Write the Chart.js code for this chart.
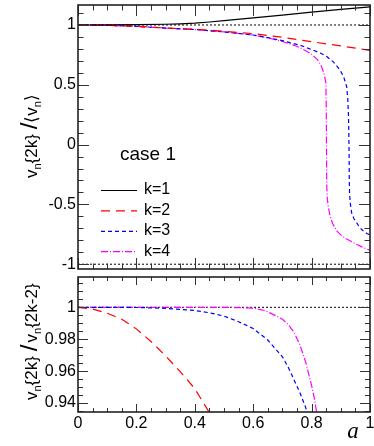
<!DOCTYPE html>
<html>
<head>
<meta charset="utf-8">
<script src="https://cdn.jsdelivr.net/npm/chart.js@4"></script>
<style>
  body { margin: 0; background: #fff; }
  #wrap { position: relative; width: 374px; height: 446px; }
  canvas { position: absolute; left: 0; }
</style>
</head>
<body>
<div id="wrap">
  <canvas id="topPanel" width="374" height="274" style="top:0;width:374px;height:274px"></canvas>
  <canvas id="bottomPanel" width="374" height="172" style="top:274px;width:374px;height:172px"></canvas>
</div>
<script>
// ---- data ----
// top panel: v_n{2k} / <v_n>
const aK1 = [0, 0.1, 0.2, 0.3, 0.35, 0.4, 0.45, 0.5, 0.6, 0.7, 0.8, 0.9, 1];
const vK1 = [1, 1.001, 1.003, 1.006, 1.010, 1.016, 1.025, 1.036, 1.059, 1.083, 1.107, 1.13, 1.152];

const aK2 = [0, 0.1, 0.2, 0.3, 0.4, 0.45, 0.5, 0.6, 0.7, 0.8, 0.9, 1];
const vK2 = [1, 0.997, 0.989, 0.975, 0.964, 0.957, 0.947, 0.928, 0.897, 0.86, 0.825, 0.788];

const aK3 = [0, 0.1, 0.2, 0.3, 0.4, 0.5, 0.6, 0.65, 0.7, 0.76, 0.8, 0.83, 0.852, 0.875, 0.897, 0.91, 0.92,
             0.924, 0.926, 0.9275, 0.928, 0.9285, 0.929, 0.93, 0.932, 0.937, 0.945, 0.954, 0.962, 0.971, 0.98, 0.991, 1];
const vK3 = [1, 0.997, 0.989, 0.974, 0.962, 0.942, 0.916, 0.894, 0.869, 0.831, 0.795, 0.765, 0.736, 0.69, 0.625, 0.565, 0.486,
             0.38, 0.264, 0.1, 0, -0.1, -0.29, -0.4, -0.48, -0.57, -0.62, -0.653, -0.683, -0.708, -0.73, -0.745, -0.755];

const aK4 = [0, 0.1, 0.2, 0.3, 0.4, 0.5, 0.6, 0.65, 0.7, 0.74, 0.76, 0.78, 0.8, 0.82, 0.834, 0.843, 0.849,
             0.85, 0.8505, 0.851, 0.8515, 0.852, 0.854, 0.858, 0.863, 0.872, 0.886, 0.9, 0.92, 0.94, 0.954, 0.97, 0.991, 1];
const vK4 = [1, 0.997, 0.989, 0.974, 0.962, 0.942, 0.9155, 0.892, 0.862, 0.83, 0.81, 0.785, 0.756, 0.71, 0.653, 0.59, 0.514,
             0.35, 0.2, 0, -0.2, -0.35, -0.458, -0.53, -0.597, -0.66, -0.722, -0.755, -0.79, -0.815, -0.833, -0.853, -0.875, -0.883];

// bottom panel: v_n{2k} / v_n{2k-2}
const aR2 = [0, 0.05, 0.1, 0.15, 0.2, 0.25, 0.3, 0.35, 0.4, 0.45, 0.46];
const vR2 = [1, 0.9989, 0.9963, 0.9925, 0.9865, 0.9786, 0.9695, 0.9597, 0.949, 0.934, 0.931];

const aR3 = [0, 0.1, 0.2, 0.3, 0.4, 0.45, 0.5, 0.55, 0.6, 0.65, 0.7, 0.72, 0.74, 0.76, 0.78, 0.8];
const vR3 = [1, 1, 0.9999, 0.9994, 0.998, 0.9966, 0.9945, 0.991, 0.9867, 0.9795, 0.969, 0.9625, 0.9545, 0.9465, 0.937, 0.926];

const aR4 = [0, 0.5, 0.55, 0.6, 0.64, 0.68, 0.7, 0.72, 0.74, 0.76, 0.78, 0.8, 0.81, 0.817, 0.825];
const vR4 = [1, 1, 0.9998, 0.9995, 0.998, 0.9945, 0.9925, 0.9892, 0.9843, 0.9765, 0.9655, 0.951, 0.9425, 0.9345, 0.924];

// dotted reference lines
const refA = [0, 1];
const refTopHi = [1, 1];
const refTopLo = [-1, -1];
const refBottom = [1, 1];

// axis ticks
const xMajor = [0, 0.2, 0.4, 0.6, 0.8, 1];
const topYMajor = [-1, -0.5, 0, 0.5, 1];
const bottomYMajor = [0.94, 0.96, 0.98, 1];
const seriesLabels = ['k=1', 'k=2', 'k=3', 'k=4'];

const FONT = 'Liberation Sans, Arial, sans-serif';

function pts(xs, ys) { return xs.map((x, i) => ({ x: x, y: ys[i] })); }
function steps(from, to, step) {
  const out = [];
  for (let v = from; v <= to + 1e-9; v += step) out.push(+v.toFixed(4));
  return out;
}

const styles = [
  { borderColor: '#000000', borderDash: [] },
  { borderColor: '#ff0000', borderDash: [9, 6] },
  { borderColor: '#0000ff', borderDash: [4, 3] },
  { borderColor: '#ff00ff', borderDash: [7, 2, 1, 2] }
];

function curve(label, xs, ys, i) {
  return Object.assign({ label: label, data: pts(xs, ys), borderWidth: 1.2, pointRadius: 0, tension: 0, fill: false }, styles[i]);
}
function refLine(ys) {
  return { data: pts(refA, ys), borderColor: '#000', borderWidth: 1, borderDash: [2, 2], pointRadius: 0, fill: false };
}
// keep the plot box fixed: no extra room for overhanging labels
function fixY(s) { s.width = 78; s.paddingTop = 0; s.paddingBottom = 0; }
function fixX(s) { s.height = 34; s.paddingLeft = 0; s.paddingRight = 0; }

// frame + inward ticks like the original plot
const rootFrame = {
  id: 'rootFrame',
  afterDatasetsDraw(chart, args, o) {
    const { ctx, chartArea: ca, scales } = chart;
    const x = scales.x, y = scales.y;
    ctx.save();
    ctx.strokeStyle = '#333';
    ctx.lineWidth = 1;
    ctx.setLineDash([]);
    const xt = (vals, len) => vals.forEach(v => {
      const px = Math.round(x.getPixelForValue(v)) + 0.5;
      ctx.beginPath();
      ctx.moveTo(px, ca.bottom); ctx.lineTo(px, ca.bottom - len);
      ctx.moveTo(px, ca.top); ctx.lineTo(px, ca.top + len);
      ctx.stroke();
    });
    const yt = (vals, len) => vals.forEach(v => {
      const py = Math.round(y.getPixelForValue(v)) + 0.5;
      ctx.beginPath();
      ctx.moveTo(ca.left, py); ctx.lineTo(ca.left + len, py);
      ctx.moveTo(ca.right, py); ctx.lineTo(ca.right - len, py);
      ctx.stroke();
    });
    xt(o.xMinor, o.xMinLen); xt(o.xMajor, o.xMajLen);
    yt(o.yMinor, o.yMinLen); yt(o.yMajor, o.yMajLen);
    ctx.lineWidth = 1.6;
    ctx.strokeStyle = '#222';
    ctx.strokeRect(ca.left, ca.top, ca.width, ca.height);
    ctx.restore();
  }
};

// rotated y title with subscripts
const yTitle = {
  id: 'yTitle',
  afterDraw(chart, args, o) {
    const ctx = chart.ctx;
    ctx.save();
    ctx.translate(o.x, o.y);
    ctx.rotate(-Math.PI / 2);
    ctx.fillStyle = '#000';
    ctx.textBaseline = 'alphabetic';
    let cx = 0;
    o.parts.forEach(p => {
      ctx.font = p[1] + 'px ' + FONT;
      ctx.fillText(p[0], cx, p[2]);
      cx += ctx.measureText(p[0]).width;
    });
    ctx.restore();
  }
};

const caseLegend = {
  id: 'caseLegend',
  afterDraw(chart, args, o) {
    if (!o.show) return;
    const ctx = chart.ctx;
    ctx.save();
    ctx.fillStyle = '#000';
    ctx.font = '19px ' + FONT;
    ctx.textBaseline = 'alphabetic';
    ctx.fillText(o.title, 120, 160);
    ctx.font = '16px ' + FONT;
    ctx.textBaseline = 'middle';
    const ds = chart.data.datasets.filter(d => d.label);
    ds.forEach((d, i) => {
      const ly = 190 + i * 20.4;
      ctx.strokeStyle = d.borderColor;
      ctx.lineWidth = 1.2;
      ctx.setLineDash(d.borderDash);
      ctx.beginPath();
      ctx.moveTo(101, ly + 0.5); ctx.lineTo(137, ly + 0.5);
      ctx.stroke();
      ctx.fillText(d.label, 144, ly);
    });
    ctx.restore();
  }
};

const axisName = {
  id: 'axisName',
  afterDraw(chart, args, o) {
    if (!o.text) return;
    const ctx = chart.ctx;
    ctx.save();
    ctx.fillStyle = '#000';
    ctx.font = 'italic 23px Liberation Serif, serif';
    ctx.textAlign = 'center';
    ctx.fillText(o.text, 353, 164);
    ctx.restore();
  }
};

Chart.register(rootFrame, yTitle, caseLegend, axisName);

const tickFont = { family: FONT, size: 16 };

// ---- top panel ----
new Chart(document.getElementById('topPanel'), {
  type: 'line',
  data: {
    datasets: [
      curve(seriesLabels[0], aK1, vK1, 0),
      curve(seriesLabels[1], aK2, vK2, 1),
      curve(seriesLabels[2], aK3, vK3, 2),
      curve(seriesLabels[3], aK4, vK4, 3),
      refLine(refTopHi),
      refLine(refTopLo)
    ]
  },
  options: {
    responsive: false,
    animation: false,
    devicePixelRatio: 1,
    layout: { padding: { top: 5, right: 4, bottom: 5, left: 0 } },
    scales: {
      x: { type: 'linear', min: 0, max: 1, display: false },
      y: {
        type: 'linear', min: -1.04, max: 1.167,
        afterFit: fixY,
        afterBuildTicks(s) { s.ticks = topYMajor.map(v => ({ value: v })); },
        grid: { display: false, drawTicks: false },
        border: { display: false },
        ticks: { font: tickFont, color: '#000', padding: 2, autoSkip: false, callback: v => String(v) }
      }
    },
    plugins: {
      legend: { display: false },
      tooltip: { enabled: false },
      rootFrame: {
        xMajor: xMajor, xMinor: steps(0, 1, 0.05), xMajLen: 11, xMinLen: 5.5,
        yMajor: topYMajor, yMinor: steps(-1, 1.1, 0.1), yMajLen: 11, yMinLen: 5.5
      },
      yTitle: {
        x: 37, y: 178,
        parts: [['v', 17, 0], ['n', 11, 4], ['{2k}', 17, 0], [' ', 17, 0], ['/', 24, 0],
                ['\u27E8', 17, 0], ['v', 17, 0], ['n', 11, 4], ['\u27E9', 17, 0]]
      },
      caseLegend: { show: true, title: 'case 1' },
      axisName: { text: '' }
    }
  }
});

// ---- bottom panel ----
new Chart(document.getElementById('bottomPanel'), {
  type: 'line',
  data: {
    datasets: [
      curve(seriesLabels[1], aR2, vR2, 1),
      curve(seriesLabels[2], aR3, vR3, 2),
      curve(seriesLabels[3], aR4, vR4, 3),
      refLine(refBottom)
    ]
  },
  options: {
    responsive: false,
    animation: false,
    devicePixelRatio: 1,
    layout: { padding: { top: 3, right: 4, bottom: 0, left: 0 } },
    scales: {
      x: {
        type: 'linear', min: 0, max: 1,
        afterFit: fixX,
        afterBuildTicks(s) { s.ticks = xMajor.map(v => ({ value: v })); },
        grid: { display: false, drawTicks: false },
        border: { display: false },
        ticks: { font: tickFont, color: '#000', padding: 2, autoSkip: false, maxRotation: 0, callback: v => String(v) }
      },
      y: {
        type: 'linear', min: 0.9344, max: 1.019,
        afterFit: fixY,
        afterBuildTicks(s) { s.ticks = bottomYMajor.map(v => ({ value: v })); },
        grid: { display: false, drawTicks: false },
        border: { display: false },
        ticks: { font: tickFont, color: '#000', padding: 2, autoSkip: false, callback: v => String(v) }
      }
    },
    plugins: {
      legend: { display: false },
      tooltip: { enabled: false },
      rootFrame: {
        xMajor: xMajor, xMinor: steps(0, 1, 0.05), xMajLen: 8, xMinLen: 4,
        yMajor: bottomYMajor, yMinor: steps(0.935, 1.015, 0.005), yMajLen: 10, yMinLen: 5
      },
      yTitle: {
        x: 37, y: 126,
        parts: [['v', 17, 0], ['n', 11, 4], ['{2k}', 17, 0], [' ', 17, 0], ['/', 24, 0], [' ', 8, 0],
                ['v', 17, 0], ['n', 11, 4], ['{2k-2}', 17, 0]]
      },
      caseLegend: { show: false },
      axisName: { text: 'a' }
    }
  }
});
</script>
</body>
</html>
